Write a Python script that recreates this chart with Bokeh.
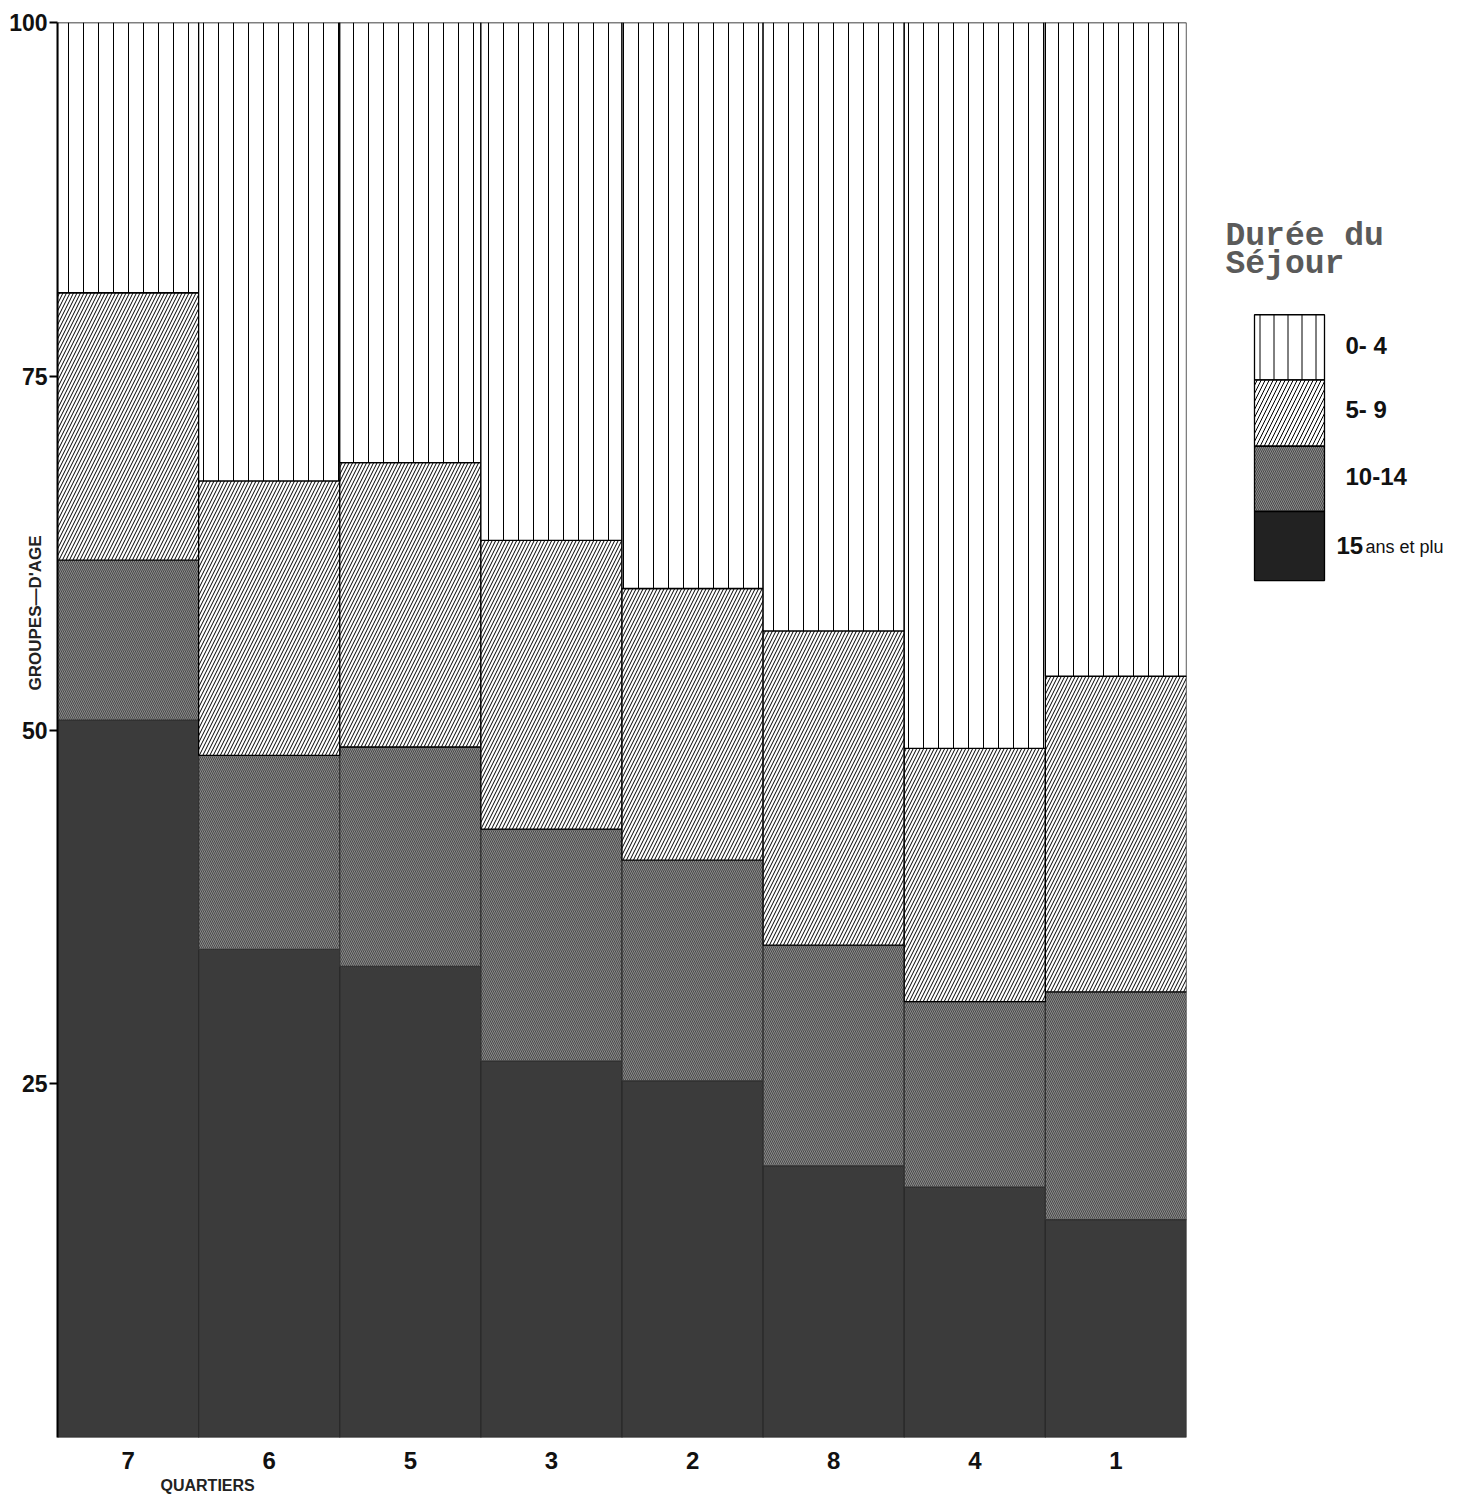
import numpy as np
from bokeh.plotting import figure
from bokeh.layouts import row
from bokeh.models import Range1d, FixedTicker, ColumnDataSource, Title
from bokeh.core.properties import value
from bokeh.embed import file_html
from bokeh.resources import INLINE

# ---------------- data ----------------
quartiers = ["7", "6", "5", "3", "2", "8", "4", "1"]
classes = ["15 ans et plus", "10-14", "5-9", "0-4"]          # bottom -> top
s15 = [50.7, 34.5, 33.3, 26.6, 25.2, 19.2, 17.7, 15.4]
s10 = [11.3, 13.7, 15.5, 16.4, 15.6, 15.6, 13.1, 16.1]
s5 = [18.9, 19.4, 20.1, 20.4, 19.2, 22.2, 17.9, 22.3]
s0 = [19.1, 32.4, 31.1, 36.6, 40.0, 43.0, 51.3, 46.2]
y_ticks = [25, 50, 75, 100]
legend_labels = ["0- 4", "5- 9", "10-14"]
legend_last = ["15", "ans  et plu"]
legend_title = ["Durée du", "Séjour"]

# ---------------- styles ----------------
fills = ["#3b3b3b", "#8a8a8a", "white", "white"]
hatches = [" ", "\\", "/", "|"]
hatch_colors = ["#3b3b3b", "#4a4a4a", "black", "black"]
hatch_scales = [6, 4, 7, 15]
line_colors = ["#2a2a2a", "#333333", "black", "black"]

FONT = value("Liberation Sans")

series = [s15, s10, s5, s0]
xpos = np.arange(len(quartiers)) + 0.5
cum = np.vstack([np.zeros(len(quartiers)), np.cumsum(np.array(series), axis=0)])

p = figure(frame_width=1129, frame_height=1415,
           x_range=Range1d(0, len(quartiers)), y_range=Range1d(0, 100),
           output_backend="svg", toolbar_location=None,
           min_border_left=57, min_border_right=10,
           min_border_top=22, min_border_bottom=56)
p.outline_line_color = None
p.grid.visible = False
p.background_fill_color = "white"

for i, name in enumerate(classes):
    src = ColumnDataSource(dict(x=xpos, bottom=cum[i], top=cum[i + 1]))
    p.vbar(x="x", bottom="bottom", top="top", width=1.0, source=src,
           fill_color=fills[i], hatch_pattern=hatches[i],
           hatch_color=hatch_colors[i], hatch_scale=hatch_scales[i],
           hatch_weight=1, line_color=line_colors[i], line_width=1.3)

# x axis
p.xaxis.ticker = FixedTicker(ticks=list(xpos))
p.xaxis.major_label_overrides = {float(x): q for x, q in zip(xpos, quartiers)}
p.xaxis.axis_line_color = None
p.xaxis.major_tick_line_color = None
p.xaxis.minor_tick_line_color = None
p.xaxis.major_label_standoff = 8
p.xaxis.major_label_text_font = "Liberation Sans"
p.xaxis.major_label_text_font_style = "bold"
p.xaxis.major_label_text_font_size = "24px"
p.xaxis.major_label_text_color = "#111111"

# y axis
p.yaxis.ticker = FixedTicker(ticks=y_ticks)
p.yaxis.axis_line_width = 2
p.yaxis.axis_line_color = "black"
p.yaxis.major_tick_out = 8
p.yaxis.major_tick_in = 0
p.yaxis.major_tick_line_width = 2
p.yaxis.minor_tick_line_color = None
p.yaxis.major_label_standoff = 2
p.yaxis.major_label_text_font = "Liberation Sans"
p.yaxis.major_label_text_font_style = "bold"
p.yaxis.major_label_text_font_size = "23px"
p.yaxis.major_label_text_color = "#111111"

p.add_layout(Title(text="GROUPES—D'AGE", align="left", offset=747,
                   standoff=-76, vertical_align="bottom",
                   text_font="Liberation Sans", text_font_style="bold",
                   text_font_size="17px", text_color="#222222"), "left")
p.add_layout(Title(text="QUARTIERS", align="left", offset=103, standoff=6,
                   text_font="Liberation Sans", text_font_style="bold",
                   text_font_size="16px", text_color="#222222"), "below")

# ---------------- legend panel ----------------
H = 1495
lg = figure(width=249, height=H, x_range=Range1d(0, 249), y_range=Range1d(H, 0),
            output_backend="svg", toolbar_location=None, min_border=0)
lg.axis.visible = False
lg.grid.visible = False
lg.outline_line_color = None

sw_top = [309, 378, 448, 517]
sw_bot = [378, 448, 517, 590]
order = [3, 2, 1, 0]  # top -> bottom in legend
leg_scales = [6, 4, 8, 14]
for k, i in enumerate(order):
    lg.quad(left=58, right=128, top=sw_top[k], bottom=sw_bot[k],
            fill_color=fills[i] if i != 0 else "#222222",
            hatch_pattern=hatches[i], hatch_color=hatch_colors[i] if i != 0 else "#222222",
            hatch_scale=leg_scales[i], hatch_weight=1,
            line_color="black", line_width=1.3)

lab_y = [342, 409, 480]
lg.text(x=[149] * 3, y=lab_y, text=legend_labels,
        text_font=FONT, text_font_style="bold", text_font_size="24px",
        text_align="left", text_baseline="middle", text_color="#111111")
lg.text(x=[140], y=[553], text=[legend_last[0]],
        text_font=FONT, text_font_style="bold", text_font_size="24px",
        text_align="left", text_baseline="middle", text_color="#111111")
lg.text(x=[169], y=[555], text=[legend_last[1]],
        text_font=FONT, text_font_size="18px",
        text_align="left", text_baseline="middle", text_color="#111111")
lg.text(x=[29, 29], y=[226, 256], text=legend_title,
        text_font=value("Liberation Mono"), text_font_style="bold",
        text_font_size="33px", text_align="left", text_baseline="middle",
        text_color="#5a5a5a")

layout = row(p, lg)
open("out.html", "w").write(file_html(layout, INLINE))
